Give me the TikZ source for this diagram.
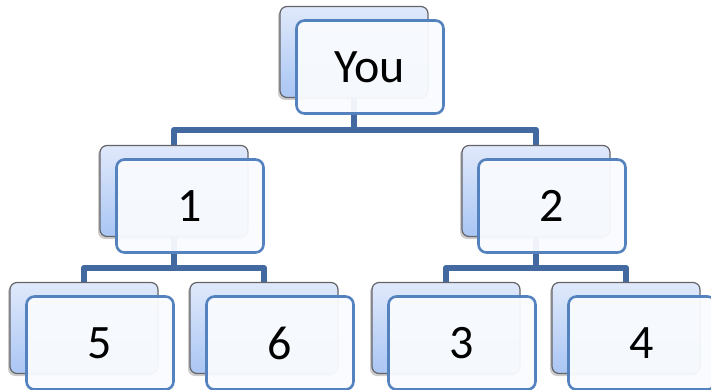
\documentclass[tikz,border=0pt]{standalone}
\usepackage{fontspec}
\setmainfont{Carlito}
\usetikzlibrary{shadows,backgrounds}
\definecolor{linkblue}{RGB}{66,106,160}
\definecolor{frontline}{RGB}{84,130,190}
\definecolor{frontfill}{RGB}{249,251,254}
\definecolor{backtop}{RGB}{224,233,251}
\definecolor{backbot}{RGB}{170,198,244}
\definecolor{backline}{RGB}{100,100,105}
\begin{document}
\begin{tikzpicture}[x=1pt, y=-1pt,
    backcard/.style={draw=backline, line width=1.2pt, rounded corners=7pt,
      top color=backtop, bottom color=backbot,
      minimum width=148pt, minimum height=91pt, inner sep=0pt,
      drop shadow={shadow xshift=-2pt, shadow yshift=-2.5pt, opacity=0.4}},
    frontcard/.style={draw=frontline, line width=2.6pt, rounded corners=8pt,
      fill=frontfill, fill opacity=0.95, text opacity=1,
      minimum width=147pt, minimum height=93pt, inner sep=0pt,
      font=\fontsize{48}{56}\selectfont},
    link/.style={draw=linkblue, line width=6.5pt, line join=round}]
  \useasboundingbox (0,0) rectangle (711,390);

  % Cards: back sheet, then front sheet with label
  \foreach \name/\x/\y/\txt in {you/370/67/You, one/190/206/1, two/552/206/2,
      five/100/343/5, six/280/343/6, three/462/343/3, four/642/343/4} {
    \node[backcard] (\name-b) at ({\x-16},{\y-15}) {};
    \node[frontcard] (\name) at (\x,\y) {\txt};
  }

  % Connectors
  \coordinate (top-bus) at (354,130);
  \coordinate (one-bus) at (174,268);
  \coordinate (two-bus) at (536,268);
  \begin{scope}[on background layer]
    \draw[link] (you-b.south) -- (top-bus);
    \draw[link] (one-b.north) |- (top-bus) -| (two-b.north);
    \draw[link] (one-b.south) -- (one-bus);
    \draw[link] (five-b.north) |- (one-bus) -| (six-b.north);
    \draw[link] (two-b.south) -- (two-bus);
    \draw[link] (three-b.north) |- (two-bus) -| (four-b.north);
  \end{scope}
\end{tikzpicture}
\end{document}
